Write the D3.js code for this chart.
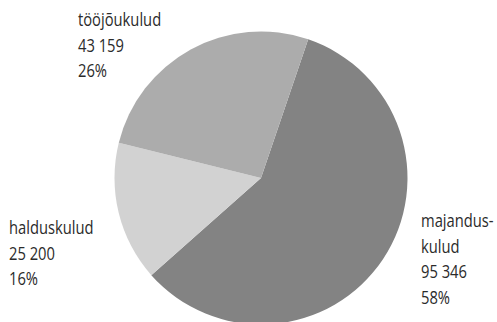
<!DOCTYPE html>
<html>
<head>
<meta charset="utf-8">
<script src="https://cdn.jsdelivr.net/npm/d3@7"></script>
<style>
  body { margin: 0; background: #fff; }
  text { font-family: "Open Sans", sans-serif; fill: #2b2b2b; }
</style>
</head>
<body>
<svg class="chart"></svg>
<script>
const W = 497;
const H = 322;
const R = 146.5;  // pie radius

// Data
var labels = [["majandus-", "kulud"], ["halduskulud"], ["tööjõukulud"]];
var values = [95346, 25200, 43159];
var percents = ["58%", "16%", "26%"];
var colors = ["#838383", "#d2d2d2", "#acacac"];

// where the text blocks sit (left x, first baseline)
var labelPos = [[421, 227], [9, 234], [78, 26]];

var svg = d3.select(".chart")
    .attr("width", W)
    .attr("height", H);

var g = svg.append("g")
    .attr("transform", "translate(" + 261 + "," + 178 + ")");

var start = 18.8 * Math.PI / 180;
var pie = d3.pie()
    .sort(null)
    .startAngle(start)
    .endAngle(start + 2 * Math.PI);

var arc = d3.arc()
    .innerRadius(0)
    .outerRadius(R);

g.selectAll("path")
    .data(pie(values))
    .enter().append("path")
    .attr("d", arc)
    .attr("fill", (d, i) => colors[i]);

var fmt = d3.formatLocale({ decimal: ",", thousands: " ", grouping: [3], currency: ["", ""] }).format(",");

// Labels (condensed look: squeeze the text horizontally)
labels.forEach(function(lab, i) {
    let lines = lab.concat([fmt(values[i]), percents[i]]);
    let t = svg.append("text")
        .attr("transform", "translate(" + labelPos[i][0] + "," + labelPos[i][1] + ") scale(0.82,1)")
        .style("font-size", "18px");
    lines.forEach(function(s, k) {
        t.append("tspan")
            .attr("x", 0)
            .attr("dy", k == 0 ? 0 : 25.7)
            .text(s);
    });
});
</script>
</body>
</html>
